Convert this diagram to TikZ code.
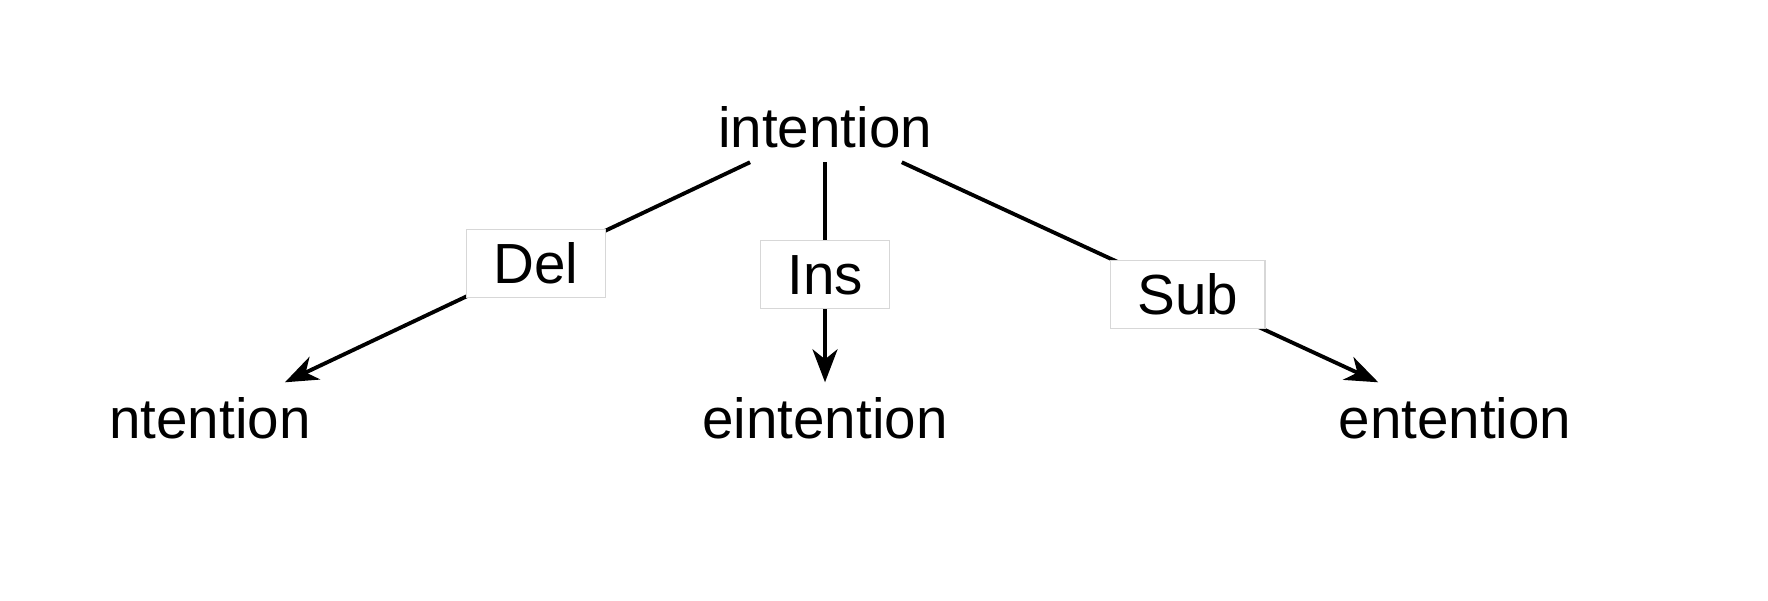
\documentclass[tikz,border=0pt]{standalone}
\usepackage{fontspec}
\setmainfont{Liberation Sans}
\usetikzlibrary{arrows.meta}
\definecolor{Gris}{RGB}{215, 215, 215}
\definecolor{Negro}{RGB}{0, 0, 0}

\begin{document}
\begin{tikzpicture}[
    palabra/.style={inner sep=0.14cm, font=\fontsize{16.1}{19}\selectfont},
    operacion/.style={fill=white, draw=Gris, line width=0.4pt, inner xsep=0.27cm, inner ysep=0cm,
        minimum height=0.68cm, text height=0.41cm, text depth=0cm, font=\fontsize{16.1}{19}\selectfont},
    flecha/.style={color=Negro, line width=1.1pt, -{Stealth[length=0.33cm, width=0.25cm, inset=0.1cm]}}]
  \useasboundingbox (0,0) rectangle (17.68,6);
  %Palabras
  \node[palabra, anchor=base] (I) at (8.25,4.53) {intention};
  \node[palabra, anchor=base] (D) at (2.10,1.62) {ntention};
  \node[palabra, anchor=base] (N) at (8.25,1.62) {eintention};
  \node[palabra, anchor=base] (S) at (14.55,1.62) {entention};
  %Operaciones
  \draw[flecha] (I) -- node[operacion, pos=0.46] {Del} (D);
  \draw[flecha] (I) -- node[operacion, pos=0.51] {Ins} (N);
  \draw[flecha] (I) -- node[operacion, pos=0.60] {Sub} (S);
\end{tikzpicture}
\end{document}
